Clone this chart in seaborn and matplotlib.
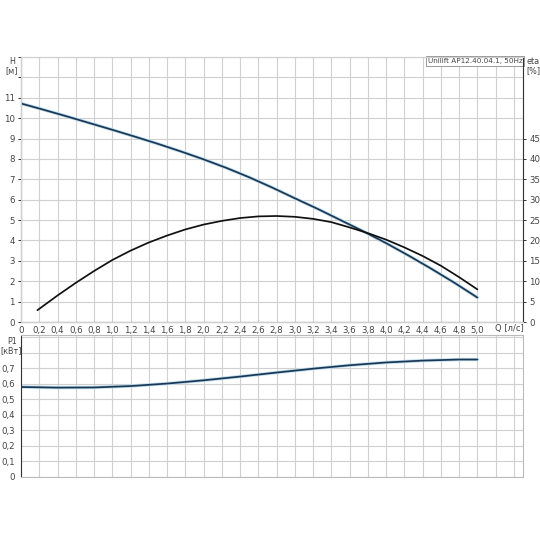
import numpy as np
import pandas as pd
import matplotlib
matplotlib.use('Agg')
import matplotlib.pyplot as plt
import matplotlib.patheffects as pe
import seaborn as sns

# Pump curves (Q in l/s)
q_h = [0.0, 0.25, 0.5, 0.75, 1.0, 1.25, 1.5, 1.75, 2.0, 2.25, 2.5, 2.75,
       3.0, 3.25, 3.5, 3.75, 4.0, 4.25, 4.5, 4.75, 5.0]
head = [10.72, 10.41, 10.09, 9.76, 9.43, 9.09, 8.74, 8.37, 7.98, 7.56, 7.1, 6.6,
        6.07, 5.55, 5.0, 4.45, 3.87, 3.25, 2.6, 1.92, 1.2]

q_eta = [0.18, 0.4, 0.6, 0.8, 1.0, 1.2, 1.4, 1.6, 1.8, 2.0, 2.2, 2.4, 2.6, 2.8,
         3.0, 3.2, 3.4, 3.6, 3.8, 4.0, 4.2, 4.4, 4.6, 4.8, 5.0]
eta = [2.9, 6.5, 9.6, 12.5, 15.2, 17.5, 19.5, 21.2, 22.7, 23.9, 24.8, 25.5, 25.9, 26.0,
       25.8, 25.3, 24.5, 23.2, 21.8, 20.2, 18.3, 16.2, 13.8, 11.0, 8.0]

q_p = [0.0, 0.4, 0.8, 1.2, 1.6, 2.0, 2.4, 2.8, 3.2, 3.6, 4.0, 4.4, 4.8, 5.0]
p1 = [0.58, 0.576, 0.577, 0.586, 0.602, 0.623, 0.647, 0.673, 0.698, 0.72, 0.738, 0.75, 0.757, 0.757]

q_ticks = [round(0.2 * i, 1) for i in range(28)]
h_labels = list(range(12))
eta_labels = list(range(0, 50, 5))
p_labels = [0.0, 0.1, 0.2, 0.3, 0.4, 0.5, 0.6, 0.7]

sns.set_theme(style='white')
plt.rcParams['font.family'] = ['DejaVu Sans']

navy = '#1c3754'
txt = '#444444'
grid_c = '#d0d0d0'
halo = [pe.Stroke(linewidth=2.4, foreground='#b9dcec'), pe.Normal()]

fig = plt.figure(figsize=(5.4, 5.4), dpi=100)
ax = fig.add_axes([21 / 540, 1 - 322 / 540, 502 / 540, 265 / 540])
ax2 = ax.twinx()
axp = fig.add_axes([21 / 540, 1 - 477 / 540, 502 / 540, 142 / 540])


def fmt(v, d=1):
    return ('%.*f' % (d, v)).replace('.', ',')


# --- top chart: head + efficiency
df_h = pd.DataFrame({'Q': q_h, 'H': head})
df_e = pd.DataFrame({'Q': q_eta, 'eta': eta})
sns.lineplot(data=df_h, x='Q', y='H', ax=ax, color=navy, lw=1.25, path_effects=halo)
sns.lineplot(data=df_e, x='Q', y='eta', ax=ax2, color='#111111', lw=1.25)

ax.set_xlim(0, 5.5)
ax.set_ylim(0, 13)
ax2.set_ylim(0, 65)
ax.set_xticks(q_ticks)
ax.set_xticklabels(['0' if v == 0 else (fmt(v) if v <= 5.0 else '') for v in q_ticks])
ax.set_yticks(range(14))
ax.set_yticklabels([str(v) if v in h_labels else '' for v in range(14)])
ax2.set_yticks(eta_labels)
ax2.set_yticklabels([str(v) for v in eta_labels])
ax.grid(True, color=grid_c, lw=0.8)
ax.set_xlabel('')
ax.set_ylabel('')
ax2.set_ylabel('')

for a in (ax, ax2):
    for s in a.spines.values():
        s.set_color(grid_c)
        s.set_linewidth(0.8)
ax.spines['left'].set_color('#333333')
ax.spines['bottom'].set_color('#333333')
ax2.spines['right'].set_color('#333333')
ax.tick_params(axis='both', labelsize=6.2, colors='#333333', labelcolor=txt,
               length=2.5, width=0.7, pad=2)
ax.tick_params(axis='x', length=0, pad=3)
ax2.tick_params(axis='y', labelsize=6.2, colors='#333333', labelcolor=txt,
                length=2.5, width=0.7, pad=2)

fig.text(12 / 540, 1 - 61 / 540, 'H', fontsize=5.8, color=txt, ha='center', va='center')
fig.text(12 / 540, 1 - 71 / 540, '[м]', fontsize=5.8, color=txt, ha='center', va='center')
fig.text(533 / 540, 1 - 61 / 540, 'eta', fontsize=5.8, color=txt, ha='center', va='center')
fig.text(533 / 540, 1 - 71 / 540, '[%]', fontsize=5.8, color=txt, ha='center', va='center')
fig.text(509 / 540, 1 - 328 / 540, 'Q [л/с]', fontsize=6, color=txt,
         ha='center', va='center', zorder=10)
ax.text(0.999, 0.997, 'Unilift AP12.40.04.1, 50Hz', transform=ax.transAxes,
        fontsize=5.2, color=txt, ha='right', va='top',
        bbox=dict(boxstyle='square,pad=0.25', fc='white', ec='#999999', lw=0.7))

# --- bottom chart: power input
df_p = pd.DataFrame({'Q': q_p, 'P1': p1})
sns.lineplot(data=df_p, x='Q', y='P1', ax=axp, color=navy, lw=1.25, path_effects=halo)
axp.set_xlim(0, 5.5)
axp.set_ylim(0, 0.915)
axp.set_xticks(q_ticks)
axp.set_xticklabels([])
pt = [round(0.1 * i, 1) for i in range(10)]
axp.set_yticks(pt)
axp.set_yticklabels([('0' if v == 0 else fmt(v)) if v in p_labels else '' for v in pt])
axp.grid(True, color=grid_c, lw=0.8)
axp.set_xlabel('')
axp.set_ylabel('')
for s in axp.spines.values():
    s.set_color('#bbbbbb')
    s.set_linewidth(0.8)
axp.spines['left'].set_color('#333333')
axp.tick_params(axis='y', labelsize=6.2, colors='#333333', labelcolor=txt,
                length=2.5, width=0.7, pad=2)
axp.tick_params(axis='x', length=0)
fig.text(12 / 540, 1 - 341 / 540, 'P1', fontsize=5.8, color=txt, ha='center', va='center')
fig.text(11 / 540, 1 - 351 / 540, '[кВт]', fontsize=5.8, color=txt, ha='center', va='center')

fig.savefig('out.png', dpi=100, facecolor='white')
